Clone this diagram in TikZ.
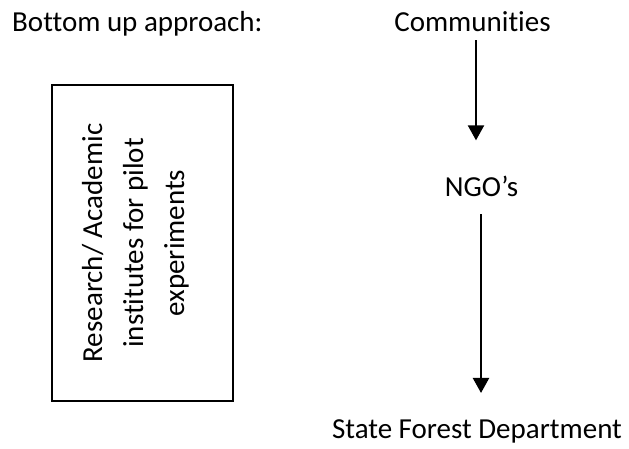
\documentclass[tikz,border=0pt]{standalone}
\usepackage{fontspec}
\setmainfont{Carlito}[RawFeature={-liga;-clig;-calt;-dlig}]
\usetikzlibrary{arrows.meta}
\begin{document}
\begin{tikzpicture}[x=1pt,y=1pt,
  txt/.style={inner sep=0pt, font=\fontsize{29}{41}\selectfont},
  arr/.style={line width=2.2pt, -{Triangle[width=16pt,length=15pt]}}]
\useasboundingbox (0,0) rectangle (629,449);
\node[txt, anchor=base west] (BU) at (12,417) {Bottom up approach:};
\node[txt, anchor=base] (Com) at (472.5,417) {Communities};
\node[txt, anchor=base] (NGO) at (481.5,252) {NGO’s};
\node[txt, anchor=base] (SFD) at (477,10) {State Forest Department};
\node[draw, line width=2pt, minimum width=181pt, minimum height=316pt] (Box) at (142.5,206) {};
\node[txt, rotate=90, align=center] (RA) at ([xshift=-7pt]Box.center) {Research/ Academic\\institutes for pilot\\experiments};
\draw [arr, shorten <=8pt, shorten >=36pt] ([xshift=3.5pt]Com.south) -- ([xshift=-5.5pt]NGO.north);
\draw [arr, shorten <=17pt, shorten >=27pt] ([xshift=-0.5pt]NGO.south) -- ([xshift=4pt]SFD.north);
\end{tikzpicture}
\end{document}
